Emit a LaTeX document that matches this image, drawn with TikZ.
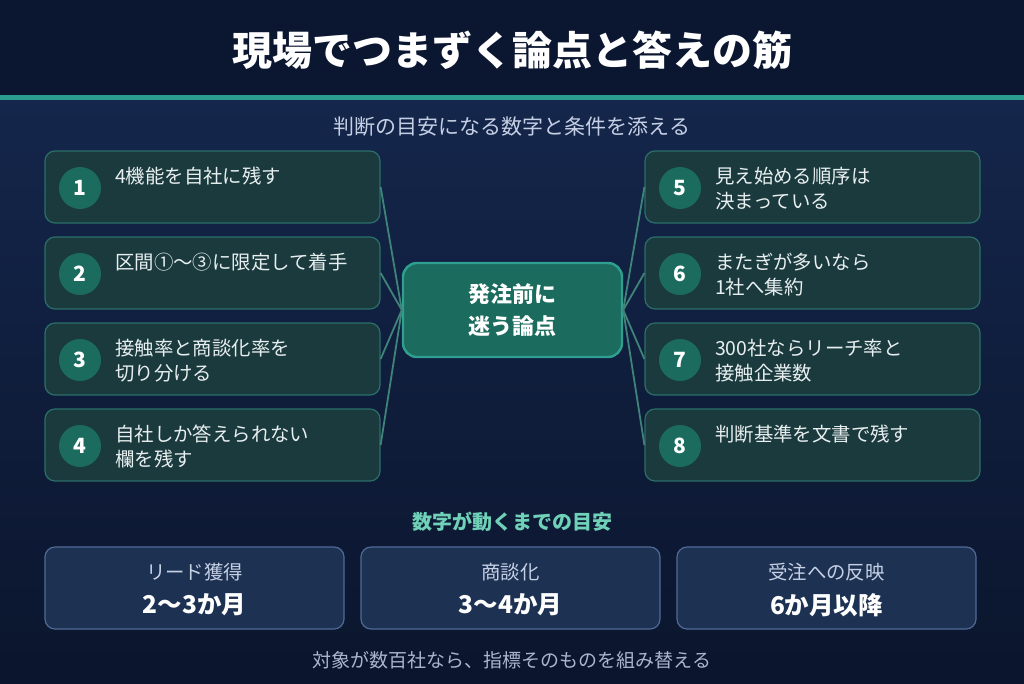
\documentclass[tikz,border=0pt]{standalone}
\usepackage{fontspec}
\setmainfont{Noto Sans CJK JP}
\definecolor{hdr}{HTML}{0B1631}
\definecolor{bgtop}{HTML}{14264B}
\definecolor{bgbot}{HTML}{0B152D}
\definecolor{tealline}{HTML}{2A9D8F}
\definecolor{itemfill}{HTML}{1B3A3D}
\definecolor{itemborder}{HTML}{2B6F69}
\definecolor{numfill}{HTML}{1C6B5F}
\definecolor{itemtext}{HTML}{E8EFF0}
\definecolor{centerfill}{HTML}{1B6B5E}
\definecolor{centerborder}{HTML}{2FA08F}
\definecolor{linkcol}{HTML}{3F8379}
\definecolor{subcol}{HTML}{C5D0E5}
\definecolor{headcol}{HTML}{6FD1B8}
\definecolor{tlfill}{HTML}{1D3152}
\definecolor{tlborder}{HTML}{4F6A96}
\definecolor{footcol}{HTML}{A9B6CE}
\tikzset{
  item/.style={draw=itemborder, fill=itemfill, line width=1.2pt, rounded corners=10pt, minimum width=335pt, minimum height=72pt, inner sep=0pt},
  num/.style={circle, fill=numfill, minimum size=42pt, inner sep=0pt, text=white, font=\fontsize{21}{21}\selectfont\bfseries},
  itemtxt/.style={anchor=north west, inner sep=0pt, align=left, text=itemtext, font=\fontsize{19.4}{25}\selectfont},
  link/.style={draw=linkcol, line width=1.8pt},
  center/.style={draw=centerborder, fill=centerfill, line width=2.4pt, rounded corners=14pt, minimum width=219pt, minimum height=94pt, align=center, text=white, font=\fontsize{22}{32}\selectfont\bfseries},
  tlbox/.style={draw=tlborder, fill=tlfill, line width=1.2pt, rounded corners=10pt, minimum width=299pt, minimum height=82pt, inner sep=0pt},
  tllabel/.style={text=subcol, font=\fontsize{19.4}{19.4}\selectfont, inner sep=0pt},
  tlvalue/.style={text=white, font=\fontsize{24.5}{24.5}\selectfont\bfseries, inner sep=0pt}
}
\begin{document}
\begin{tikzpicture}[x=1pt,y=-1pt]
\useasboundingbox (0,0) rectangle (1024,683);
\fill[hdr] (0,0) rectangle (1024,95);
\shade[top color=bgtop,bottom color=bgbot] (0,100) rectangle (1024,683);
\fill[tealline] (0,95) rectangle (1024,100);
\node[text=white, font=\fontsize{40}{40}\selectfont\bfseries, inner sep=0pt] (title) at (512,50) {現場でつまずく論点と答えの筋};
\node[text=subcol, font=\fontsize{21}{21}\selectfont, inner sep=0pt] (sub) at (512,127) {判断の目安になる数字と条件を添える};

\node[center] (c) at (512.5,310) {発注前に\\迷う論点};

% left items
\node[item] (b1) at (212.5,187) {};
\node[item] (b2) at (212.5,273) {};
\node[item] (b3) at (212.5,359) {};
\node[item] (b4) at (212.5,445) {};
\node[num] (n1) at (80,188) {1};
\node[num] (n2) at (80,274) {2};
\node[num] (n3) at (80,360) {3};
\node[num] (n4) at (80,446) {4};
\node[itemtxt] (t1) at (115,167) {4機能を自社に残す};
\node[itemtxt] (t2) at (115,253) {区間①〜③に限定して着手};
\node[itemtxt] (t3) at (115,339) {接触率と商談化率を\\切り分ける};
\node[itemtxt] (t4) at (115,425) {自社しか答えられない\\欄を残す};

% right items
\node[item] (b5) at (812.5,187) {};
\node[item] (b6) at (812.5,273) {};
\node[item] (b7) at (812.5,359) {};
\node[item] (b8) at (812.5,445) {};
\node[num] (n5) at (680,188) {5};
\node[num] (n6) at (680,274) {6};
\node[num] (n7) at (680,360) {7};
\node[num] (n8) at (680,446) {8};
\node[itemtxt] (t5) at (715,167) {見え始める順序は\\決まっている};
\node[itemtxt] (t6) at (715,253) {またぎが多いなら\\1社へ集約};
\node[itemtxt] (t7) at (715,339) {300社ならリーチ率と\\接触企業数};
\node[itemtxt] (t8) at (715,425) {判断基準を文書で残す};

% connectors
\foreach \b in {b1,b2,b3,b4} \draw[link] (\b.east) -- (c.west);
\foreach \b in {b5,b6,b7,b8} \draw[link] (c.east) -- (\b.west);

% timeline
\node[text=headcol, font=\fontsize{20}{20}\selectfont\bfseries, inner sep=0pt] (th) at (512,522) {数字が動くまでの目安};
\node[tlbox] (p1) at (194.5,588) {};
\node[tlbox] (p2) at (510.5,588) {};
\node[tlbox] (p3) at (826.5,588) {};
\node[tllabel] (l1) at (194.5,572) {リード獲得};
\node[tllabel] (l2) at (510.5,572) {商談化};
\node[tllabel] (l3) at (826.5,572) {受注への反映};
\node[tlvalue] (v1) at (194.5,605) {2〜3か月};
\node[tlvalue] (v2) at (510.5,605) {3〜4か月};
\node[tlvalue] (v3) at (826.5,605) {6か月以降};
\node[text=footcol, font=\fontsize{19}{19}\selectfont, inner sep=0pt] (foot) at (512,660) {対象が数百社なら、指標そのものを組み替える};
\end{tikzpicture}
\end{document}
